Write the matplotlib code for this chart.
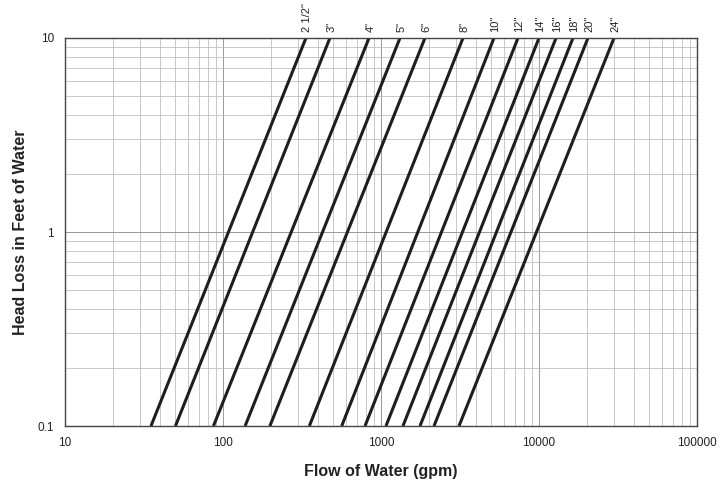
import matplotlib.pyplot as plt
from matplotlib.ticker import FixedLocator, FixedFormatter, LogLocator, NullFormatter

# Pipe sizes and the flow (gpm) where each line crosses 0.1 ft and 10 ft of head loss
pipe_sizes = ['2 1/2"', '3"', '4"', '5"', '6"', '8"', '10"', '12"', '14"', '16"', '18"', '20"', '24"']
flow_at_low = [35, 50, 87, 138, 198, 352, 564, 792, 1075, 1377, 1765, 2165, 3117]
flow_at_high = [335, 475, 840, 1319, 1898, 3304, 5190, 7365, 10000, 12820, 16410, 20420, 29840]
head_ends = [0.1, 10]

plt.rcParams['font.family'] = ['Liberation Sans', 'DejaVu Sans']

fig = plt.figure(figsize=(7.28, 4.84), dpi=100)
ax = fig.add_axes([0.0893, 0.1198, 0.8681, 0.8017])
ax.set_xscale('log')
ax.set_yscale('log')
ax.set_xlim(10, 100000)
ax.set_ylim(0.1, 10)

# grid
ax.xaxis.set_minor_locator(LogLocator(base=10, subs=range(2, 10)))
ax.yaxis.set_minor_locator(LogLocator(base=10, subs=range(2, 10)))
ax.xaxis.set_minor_formatter(NullFormatter())
ax.yaxis.set_minor_formatter(NullFormatter())
ax.grid(True, which='major', color='#999999', linewidth=0.7)
ax.grid(True, which='minor', color='#bbbbbb', linewidth=0.55)
ax.set_axisbelow(True)

# pipe lines
for size, q1, q2 in zip(pipe_sizes, flow_at_low, flow_at_high):
    ax.plot([q1, q2], head_ends, color='#1e1e1e', linewidth=2.2, solid_capstyle='butt')
    ax.annotate(size, xy=(q2, 10), xytext=(1, 4), textcoords='offset points',
                rotation=90, ha='center', va='bottom', fontsize=8, color='#222222',
                annotation_clip=False)

ax.xaxis.set_major_locator(FixedLocator([10, 100, 1000, 10000, 100000]))
ax.xaxis.set_major_formatter(FixedFormatter(['10', '100', '1000', '10000', '100000']))
ax.yaxis.set_major_locator(FixedLocator([0.1, 1, 10]))
ax.yaxis.set_major_formatter(FixedFormatter(['0.1', '1', '10']))
ax.tick_params(which='both', length=0, labelsize=8.5, colors='#222222', pad=8)

for s in ax.spines.values():
    s.set_color('#444444')
    s.set_linewidth(1.0)

ax.set_xlabel('Flow of Water (gpm)', fontsize=11.5, fontweight='bold', color='#222222', labelpad=11)
ax.set_ylabel('Head Loss in Feet of Water', fontsize=11.5, fontweight='bold', color='#222222', labelpad=7)

plt.savefig('out.png', dpi=100)
